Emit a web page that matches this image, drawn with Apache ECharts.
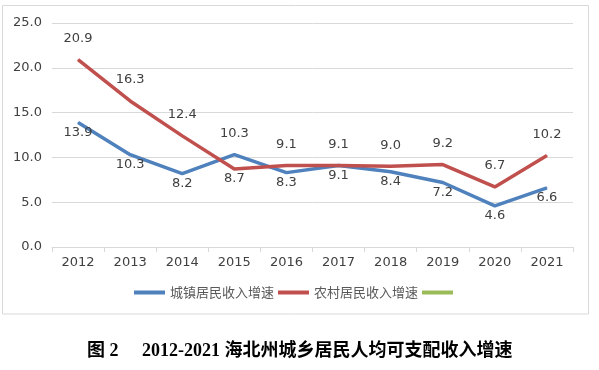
<!DOCTYPE html>
<html><head><meta charset="utf-8">
<script src="https://cdn.jsdelivr.net/npm/echarts@6/dist/echarts.min.js"></script>
<style>html,body{margin:0;padding:0;background:#fff}#c{width:599px;height:370px}</style>
</head><body><div id="c"></div>
<script>
var categories = ['2012','2013','2014','2015','2016','2017','2018','2019','2020','2021'];
var urbanName = '城镇居民收入增速';
var ruralName = '农村居民收入增速';
var urbanValues = [13.9, 10.3, 8.2, 10.3, 8.3, 9.1, 8.4, 7.2, 4.6, 6.6];
var ruralValues = [20.9, 16.3, 12.4, 8.7, 9.1, 9.1, 9.0, 9.2, 6.7, 10.2];
var yTicks = [0, 5, 10, 15, 20, 25];
var titlePrefix = '图 2';
var titleMain = '2012-2021 海北州城乡居民人均可支配收入增速';

var chart = echarts.init(document.getElementById('c'), null, {renderer: 'canvas'});
var labelFont = {fontFamily: 'DejaVu Sans', fontSize: 13, color: '#404040'};
function mk(values, defPos, flipIdx) {
  return values.map(function (v, i) {
    var above = (i === flipIdx) ? defPos !== 'top' : defPos === 'top';
    return {value: v, label: {position: above ? 'top' : 'bottom', distance: above ? 14 : 3}};
  });
}
chart.setOption({
  animation: false,
  backgroundColor: '#fff',
  graphic: [
    {type: 'rect', shape: {x: 2.5, y: 5.5, width: 586, height: 308.5},
      style: {fill: 'none', stroke: '#d9d9d9', lineWidth: 1}, silent: true},
    {type: 'text', left: 87, top: 342, silent: true,
      style: {text: titlePrefix, font: 'bold 18px "Liberation Serif", "Noto Sans CJK SC"', fill: '#000'}},
    {type: 'text', left: 142, top: 342, silent: true,
      style: {text: titleMain, font: 'bold 18px "Liberation Serif", "Noto Sans CJK SC"', fill: '#000'}}
  ],
  grid: {left: 52, right: 26, top: 23, bottom: 123},
  legend: {left: 134, top: 286, padding: 0, itemWidth: 31, itemHeight: 4, itemGap: 4, icon: 'rect',
    textStyle: {fontFamily: '"Noto Sans CJK SC"', fontSize: 13, color: '#595959'},
    data: [urbanName, ruralName, ' ']},
  xAxis: {type: 'category', data: categories, boundaryGap: true,
    axisLine: {lineStyle: {color: '#d9d9d9'}},
    axisTick: {show: true, length: 5, lineStyle: {color: '#d9d9d9'}},
    axisLabel: {margin: 9, fontFamily: 'DejaVu Sans', fontSize: 13, color: '#404040'}},
  yAxis: {type: 'value', min: yTicks[0], max: yTicks[yTicks.length - 1], interval: 5,
    axisLine: {show: false}, axisTick: {show: false},
    splitLine: {lineStyle: {color: '#d9d9d9'}},
    axisLabel: {margin: 10, fontFamily: 'DejaVu Sans', fontSize: 13, color: '#404040',
      formatter: function (v) { return v.toFixed(1); }}},
  series: [
    {name: urbanName, type: 'line', data: mk(urbanValues, 'bottom', 3),
      symbol: 'circle', symbolSize: 1, showSymbol: true, itemStyle: {color: '#4F81BD'},
      color: '#4F81BD', lineStyle: {width: 3.5, color: '#4F81BD'},
      label: Object.assign({show: true, formatter: function (p) { return p.value.toFixed(1); }}, labelFont)},
    {name: ruralName, type: 'line', data: mk(ruralValues, 'top', 3),
      symbol: 'circle', symbolSize: 1, showSymbol: true, itemStyle: {color: '#C0504D'},
      color: '#C0504D', lineStyle: {width: 3.5, color: '#C0504D'},
      label: Object.assign({show: true, formatter: function (p) { return p.value.toFixed(1); }}, labelFont)},
    {name: ' ', type: 'line', data: [], color: '#9BBB59', lineStyle: {color: '#9BBB59'}}
  ]
});
</script></body></html>
